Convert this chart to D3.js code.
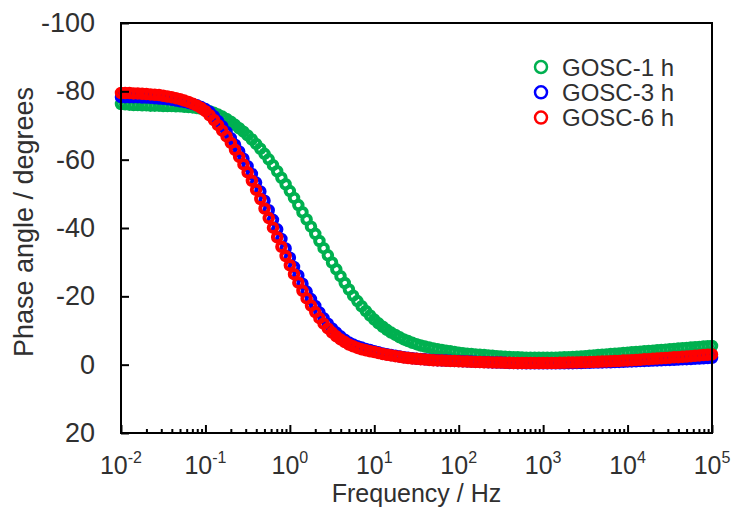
<!DOCTYPE html>
<html><head><meta charset="utf-8">
<script src="https://cdn.jsdelivr.net/npm/d3@7"></script>
<style>body{margin:0;background:#fff}</style>
</head><body><svg id="c" width="734" height="508"></svg>
<script>
// Frequencies (Hz), 20 points per decade
const freq = [
1.00e-2,1.12e-2,1.26e-2,1.41e-2,1.58e-2,1.78e-2,2.00e-2,2.24e-2,2.51e-2,2.82e-2,3.16e-2,3.55e-2,3.98e-2,4.47e-2,5.01e-2,5.62e-2,6.31e-2,7.08e-2,7.94e-2,8.91e-2,
1.00e-1,1.12e-1,1.26e-1,1.41e-1,1.58e-1,1.78e-1,2.00e-1,2.24e-1,2.51e-1,2.82e-1,3.16e-1,3.55e-1,3.98e-1,4.47e-1,5.01e-1,5.62e-1,6.31e-1,7.08e-1,7.94e-1,8.91e-1,
1.00e0,1.12e0,1.26e0,1.41e0,1.58e0,1.78e0,2.00e0,2.24e0,2.51e0,2.82e0,3.16e0,3.55e0,3.98e0,4.47e0,5.01e0,5.62e0,6.31e0,7.08e0,7.94e0,8.91e0,
1.00e1,1.12e1,1.26e1,1.41e1,1.58e1,1.78e1,2.00e1,2.24e1,2.51e1,2.82e1,3.16e1,3.55e1,3.98e1,4.47e1,5.01e1,5.62e1,6.31e1,7.08e1,7.94e1,8.91e1,
1.00e2,1.12e2,1.26e2,1.41e2,1.58e2,1.78e2,2.00e2,2.24e2,2.51e2,2.82e2,3.16e2,3.55e2,3.98e2,4.47e2,5.01e2,5.62e2,6.31e2,7.08e2,7.94e2,8.91e2,
1.00e3,1.12e3,1.26e3,1.41e3,1.58e3,1.78e3,2.00e3,2.24e3,2.51e3,2.82e3,3.16e3,3.55e3,3.98e3,4.47e3,5.01e3,5.62e3,6.31e3,7.08e3,7.94e3,8.91e3,
1.00e4,1.12e4,1.26e4,1.41e4,1.58e4,1.78e4,2.00e4,2.24e4,2.51e4,2.82e4,3.16e4,3.55e4,3.98e4,4.47e4,5.01e4,5.62e4,6.31e4,7.08e4,7.94e4,8.91e4,
1.00e5];

const phase1h = [
-76.3,-76.2,-76.1,-76.0,-76.0,-75.9,-75.9,-75.8,-75.8,-75.8,-75.7,-75.7,-75.7,-75.6,-75.6,-75.5,-75.4,-75.3,-75.1,-74.9,
-74.6,-74.2,-73.7,-73.2,-72.6,-71.9,-71.1,-70.2,-69.2,-68.2,-67.1,-65.9,-64.6,-63.2,-61.7,-60.1,-58.4,-56.6,-54.7,-52.8,
-50.8,-48.8,-46.7,-44.6,-42.5,-40.4,-38.3,-36.2,-34.1,-32.0,-29.9,-27.9,-25.9,-23.9,-22.0,-20.2,-18.6,-17.1,-15.7,-14.4,
-13.2,-12.1,-11.1,-10.2,-9.4,-8.7,-8.0,-7.4,-6.9,-6.4,-6.0,-5.6,-5.3,-5.0,-4.7,-4.5,-4.3,-4.1,-3.9,-3.7,
-3.5,-3.35,-3.2,-3.1,-3.0,-2.9,-2.8,-2.7,-2.6,-2.5,-2.4,-2.3,-2.25,-2.2,-2.15,-2.1,-2.05,-2.0,-2.0,-2.0,
-2.0,-2.0,-2.0,-2.05,-2.1,-2.15,-2.2,-2.25,-2.3,-2.4,-2.5,-2.6,-2.7,-2.8,-2.9,-3.0,-3.1,-3.2,-3.3,-3.4,
-3.5,-3.6,-3.7,-3.8,-3.9,-4.0,-4.1,-4.2,-4.3,-4.4,-4.5,-4.6,-4.7,-4.8,-4.9,-5.0,-5.1,-5.2,-5.3,-5.4,
-5.5];

const phase3h = [
-78.3,-78.3,-78.3,-78.3,-78.3,-78.2,-78.2,-78.1,-78.0,-77.9,-77.8,-77.7,-77.5,-77.3,-77.1,-76.9,-76.6,-76.3,-75.9,-75.4,
-74.8,-74.0,-72.7,-71.3,-69.8,-68.1,-66.3,-64.4,-62.4,-60.3,-58.1,-55.8,-53.3,-50.7,-48.0,-45.2,-42.4,-39.6,-36.8,-34.0,
-31.3,-28.6,-26.1,-23.7,-21.4,-19.2,-17.2,-15.3,-13.6,-12.0,-10.6,-9.4,-8.3,-7.3,-6.5,-5.9,-5.4,-5.0,-4.6,-4.3,
-3.9,-3.6,-3.3,-3.05,-2.8,-2.6,-2.4,-2.2,-2.05,-1.9,-1.75,-1.65,-1.55,-1.45,-1.35,-1.3,-1.25,-1.2,-1.15,-1.1,
-1.05,-1.0,-0.95,-0.9,-0.85,-0.8,-0.75,-0.7,-0.65,-0.6,-0.6,-0.55,-0.5,-0.5,-0.45,-0.45,-0.4,-0.4,-0.4,-0.4,
-0.4,-0.4,-0.4,-0.4,-0.4,-0.4,-0.45,-0.45,-0.5,-0.5,-0.55,-0.55,-0.6,-0.6,-0.65,-0.7,-0.7,-0.75,-0.8,-0.85,
-0.9,-0.95,-1.0,-1.05,-1.1,-1.15,-1.2,-1.25,-1.3,-1.35,-1.4,-1.45,-1.5,-1.55,-1.6,-1.65,-1.75,-1.8,-1.85,-1.95,
-2.0];

const phase6h = [
-79.5,-79.5,-79.5,-79.4,-79.4,-79.3,-79.2,-79.1,-79.0,-78.9,-78.7,-78.5,-78.3,-78.0,-77.7,-77.3,-76.9,-76.4,-75.8,-75.1,
-74.2,-73.0,-71.6,-70.1,-68.5,-66.8,-64.9,-62.9,-60.8,-58.6,-56.3,-53.8,-51.2,-48.5,-45.7,-42.9,-40.1,-37.3,-34.5,-31.8,
-29.1,-26.5,-24.0,-21.6,-19.4,-17.3,-15.4,-13.6,-12.0,-10.6,-9.4,-8.3,-7.4,-6.6,-5.9,-5.4,-4.9,-4.5,-4.2,-3.9,
-3.7,-3.4,-3.1,-2.9,-2.7,-2.5,-2.3,-2.1,-1.95,-1.8,-1.7,-1.6,-1.5,-1.4,-1.3,-1.25,-1.2,-1.15,-1.1,-1.05,
-1.0,-0.95,-0.9,-0.85,-0.8,-0.75,-0.7,-0.7,-0.65,-0.6,-0.6,-0.55,-0.55,-0.5,-0.5,-0.5,-0.5,-0.5,-0.5,-0.5,
-0.5,-0.5,-0.5,-0.5,-0.55,-0.55,-0.6,-0.6,-0.65,-0.7,-0.7,-0.75,-0.8,-0.85,-0.9,-0.95,-1.0,-1.05,-1.1,-1.2,
-1.25,-1.3,-1.4,-1.45,-1.55,-1.6,-1.7,-1.8,-1.85,-1.95,-2.05,-2.15,-2.2,-2.3,-2.4,-2.5,-2.6,-2.7,-2.8,-2.9,
-3.0];

const seriesNames = ["GOSC-1 h", "GOSC-3 h", "GOSC-6 h"];
const seriesColors = ["#00B050", "#0000FF", "#FF0000"];
const yTickValues = [-100, -80, -60, -40, -20, 0, 20];
const xTickExponents = [-2, -1, 0, 1, 2, 3, 4, 5];
const xTitle = "Frequency / Hz";
const yTitle = "Phase angle / degrees";

const series = [phase1h, phase3h, phase6h].map((vals, i) => ({
  name: seriesNames[i], color: seriesColors[i],
  points: freq.map((f, j) => ({f: f, v: vals[j]}))
}));

const FONT = "'Liberation Sans', Arial, sans-serif";
const TXT = "#303030";
const svg = d3.select("#c");

const x = d3.scaleLog().domain([1e-2, 1e5]).range([121, 712]);
const y = d3.scaleLinear().domain([-100, 20]).range([23, 433]);

// Data markers (open circles)
series.forEach(s => {
  svg.append("g").selectAll("circle").data(s.points).join("circle")
    .attr("cx", d => x(d.f)).attr("cy", d => y(d.v)).attr("r", 4.3)
    .attr("fill", "none").attr("stroke", s.color).attr("stroke-width", 3.9);
});

// Frame
svg.append("rect").attr("x", x.range()[0]).attr("y", y.range()[0])
  .attr("width", x.range()[1] - x.range()[0]).attr("height", y.range()[1] - y.range()[0])
  .attr("fill", "none").attr("stroke", "#000").attr("stroke-width", 2);

// Y axis
const yAxis = svg.append("g").attr("transform", `translate(${x.range()[0]},0)`)
  .call(d3.axisLeft(y).tickValues(yTickValues).tickSize(-8).tickPadding(26).tickFormat(d => String(d)));
yAxis.select(".domain").remove();
yAxis.selectAll("line").attr("stroke", "#000").attr("stroke-width", 2);
yAxis.selectAll("text").attr("font-family", FONT).attr("font-size", 27).attr("fill", TXT);

// X axis ticks
const majors = xTickExponents.map(e => Math.pow(10, e));
const minors = x.ticks().filter(t => !majors.some(m => Math.abs(t / m - 1) < 1e-9));
const xMinor = svg.append("g").attr("transform", `translate(0,${y.range()[1]})`)
  .call(d3.axisBottom(x).tickValues(minors).tickSize(-4).tickFormat(""));
xMinor.select(".domain").remove();
xMinor.selectAll("line").attr("stroke", "#000").attr("stroke-width", 2);

const xMajor = svg.append("g").attr("transform", `translate(0,${y.range()[1]})`)
  .call(d3.axisBottom(x).tickValues(majors).tickSize(-8).tickFormat(""));
xMajor.select(".domain").remove();
xMajor.selectAll("line").attr("stroke", "#000").attr("stroke-width", 2);

// X tick labels with superscripts
const xl = svg.append("g");
xTickExponents.forEach(e => {
  const t = xl.append("text").attr("x", x(Math.pow(10, e))).attr("y", 474)
    .attr("text-anchor", "middle").attr("font-family", FONT).attr("font-size", 25).attr("fill", TXT);
  t.append("tspan").text("10");
  t.append("tspan").attr("dy", -11).attr("font-size", 16).text(String(e));
});

// Axis titles
svg.append("text").attr("x", (x.range()[0] + x.range()[1]) / 2).attr("y", 502)
  .attr("text-anchor", "middle").attr("font-family", FONT).attr("font-size", 25).attr("fill", TXT)
  .text(xTitle);
svg.append("text").attr("transform", "translate(33,222) rotate(-90)")
  .attr("text-anchor", "middle").attr("font-family", FONT).attr("font-size", 27).attr("fill", TXT)
  .text(yTitle);

// Legend
const lg = svg.append("g");
series.forEach((s, i) => {
  const cy = 67 + i * 25.3;
  lg.append("circle").attr("cx", 541).attr("cy", cy).attr("r", 6)
    .attr("fill", "none").attr("stroke", s.color).attr("stroke-width", 2.5);
  lg.append("text").attr("x", 562).attr("y", cy + 8.5)
    .attr("font-family", FONT).attr("font-size", 24).attr("fill", TXT).text(s.name);
});
</script>
</body></html>
